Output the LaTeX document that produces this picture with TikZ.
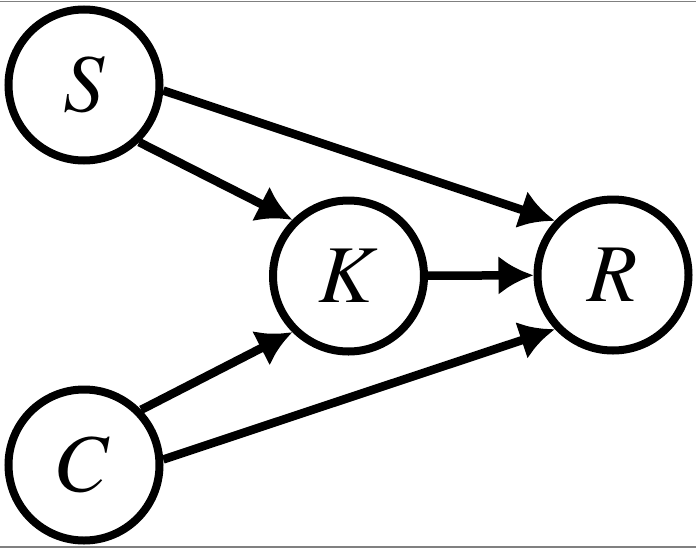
\documentclass[tikz,border=0pt]{standalone}
\usepackage{mathptmx}
\usetikzlibrary{arrows.meta}

\begin{document}
\begin{tikzpicture}[
    x=1pt, y=-1pt,
    var/.style={
        circle,
        draw,
        line width=8pt,
        minimum size=151pt,
        inner sep=0pt,
        font=\fontsize{82}{98}\selectfont
    },
    arrow/.style={
        -{Latex[length=35pt,width=39pt]},
        line width=8.5pt
    },
    frameline/.style={
        draw=gray,
        line width=1.2pt
    }
]

% =========================================================
% FRAME
% =========================================================

\useasboundingbox (0,0) rectangle (696,549);
\draw[frameline] (0,1.5) -- (696,1.5);
\draw[frameline] (0,547) -- (696,547);

% =========================================================
% VARIABLES
% =========================================================

\node[var] (S) at (84,85) {$S$};
\node[var] (K) at (348.5,276) {$K$};
\node[var] (R) at (613,275) {$R$};
\node[var] (C) at (84,465) {$C$};

% =========================================================
% EDGES
% =========================================================

\draw[arrow] (S.-4) -- (R.137);
\draw[arrow] (S.-46) -- (K.135);
\draw[arrow] (C.44) -- (K.-135);
\draw[arrow] (C.4) -- (R.-137);
\draw[arrow] (K) -- (R);

\end{tikzpicture}
\end{document}
